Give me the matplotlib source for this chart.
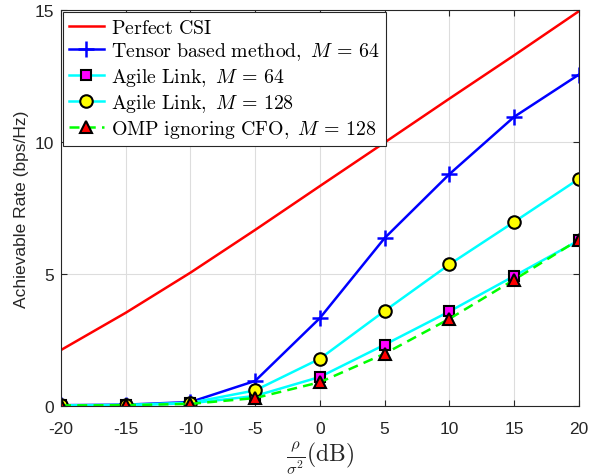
import matplotlib
matplotlib.use("Agg")
import matplotlib.pyplot as plt

plt.rcParams['mathtext.fontset'] = 'cm'
plt.rcParams['font.family'] = ['Liberation Sans', 'DejaVu Sans']

snr_db = [-20, -15, -10, -5, 0, 5, 10, 15, 20]
perfect_csi = [2.12, 3.53, 5.05, 6.67, 8.33, 9.98, 11.64, 13.28, 14.95]
tensor_m64 = [0.03, 0.05, 0.15, 0.95, 3.33, 6.36, 8.78, 10.95, 12.55]
agile_m64 = [0.02, 0.03, 0.10, 0.38, 1.10, 2.32, 3.58, 4.92, 6.27]
agile_m128 = [0.02, 0.04, 0.12, 0.59, 1.79, 3.60, 5.36, 6.97, 8.60]
omp_m128 = [0.02, 0.03, 0.08, 0.30, 0.90, 1.98, 3.30, 4.78, 6.30]

xticks = [-20, -15, -10, -5, 0, 5, 10, 15, 20]
yticks = [0, 5, 10, 15]

fig = plt.figure(figsize=(5.9, 4.77), dpi=100)
ax = fig.add_axes([0.1034, 0.1468, 0.8776, 0.8302])

ax.plot(snr_db, perfect_csi, color='#ff0000', lw=1.8,
        label=r'$\mathrm{Perfect\ CSI}$')
ax.plot(snr_db, tensor_m64, color='#0000ff', lw=1.8, marker='+', ms=11, mew=1.8,
        label=r'$\mathrm{Tensor\ based\ method,}\ M\,=\,64$')
ax.plot(snr_db, agile_m64, color='#00ffff', lw=1.8, marker='s', ms=7,
        mfc='#ff00ff', mec='black', mew=1.5,
        label=r'$\mathrm{Agile\ Link,}\ M\,=\,64$')
ax.plot(snr_db, agile_m128, color='#00ffff', lw=1.8, marker='o', ms=9,
        mfc='#ffff00', mec='black', mew=1.5,
        label=r'$\mathrm{Agile\ Link,}\ M\,=\,128$')
ax.plot(snr_db, omp_m128, color='#00ff00', lw=1.8, ls=(0, (4, 2.5)), marker='^', ms=9,
        mfc='#ff0000', mec='black', mew=1.5,
        label=r'$\mathrm{OMP\ ignoring\ CFO,}\ M\,=\,128$')

ax.set_xlim(-20, 20)
ax.set_ylim(0, 15)
ax.set_xticks(xticks)
ax.set_xticklabels([str(t) for t in xticks])
ax.set_yticks(yticks)
ax.grid(True, color='#dddddd', lw=0.8)
ax.set_axisbelow(True)
ax.tick_params(direction='in', labelsize=12.5, colors='#262626', top=True, right=True, length=4)
ax.tick_params(axis='x', pad=11)
ax.tick_params(axis='y', pad=5)
for s in ax.spines.values():
    s.set_color('#262626')
    s.set_linewidth(0.8)

ax.set_ylabel('Achievable Rate (bps/Hz)', fontsize=12.5, color='#262626')
ax.set_xlabel(r'$\frac{\rho}{\sigma^2}\mathrm{(dB)}$', fontsize=17, color='#262626', labelpad=2)

leg = ax.legend(loc='upper left', fontsize=14.3, borderaxespad=0.08, fancybox=False,
                edgecolor='#262626', framealpha=1, handlelength=1.8,
                handletextpad=0.35, labelspacing=0.2, borderpad=0.3)
leg.get_frame().set_linewidth(0.8)

fig.savefig('out.png', dpi=100)
